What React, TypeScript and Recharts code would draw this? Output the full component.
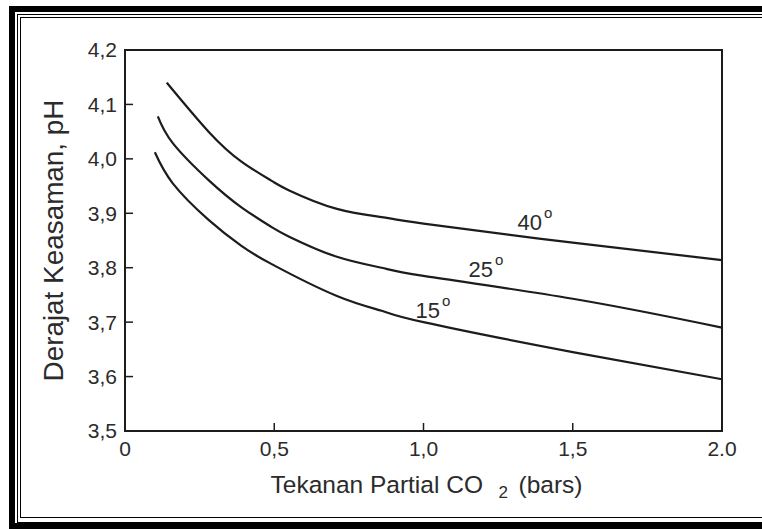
import { LineChart, Line, XAxis, YAxis, ReferenceArea, ReferenceDot } from "recharts";

// axis ticks
const xTicks = [0, 0.5, 1, 1.5, 2];
const xTickLabels = ["0", "0,5", "1,0", "1,5", "2.0"];
const yTicks = [3.5, 3.6, 3.7, 3.8, 3.9, 4.0, 4.1, 4.2];

// CO2 partial pressure (bars) -> pH
const co2At15 = [0.1, 0.16, 0.28, 0.39, 0.49, 0.71, 0.86, 1.0, 1.5, 2.0];
const ph15 = [4.012, 3.955, 3.888, 3.84, 3.807, 3.748, 3.721, 3.7, 3.645, 3.595];

const co2At25 = [0.11, 0.16, 0.28, 0.39, 0.49, 0.55, 0.71, 0.86, 1.0, 1.5, 2.0];
const ph25 = [4.078, 4.029, 3.961, 3.911, 3.875, 3.857, 3.82, 3.8, 3.785, 3.743, 3.69];

const co2At40 = [0.14, 0.28, 0.39, 0.49, 0.55, 0.71, 0.86, 1.0, 1.5, 2.0];
const ph40 = [4.14, 4.05, 3.995, 3.96, 3.942, 3.908, 3.893, 3.881, 3.846, 3.814];

// temperature labels and where they sit (data coords, left/baseline)
const tempLabels = ["15", "25", "40"];
const tempLabelX = [0.973, 1.151, 1.315];
const tempLabelY = [3.707, 3.783, 3.869];

const toPoints = (xs: number[], ys: number[]) => xs.map((x, i) => ({ x, y: ys[i] }));

const FONT = '"Liberation Sans", Arial, sans-serif';
const INK = "#1c1c1c";
const TEXT = "#2b2b2b";

const series = [
  { name: "15", data: toPoints(co2At15, ph15) },
  { name: "25", data: toPoints(co2At25, ph25) },
  { name: "40", data: toPoints(co2At40, ph40) },
];

function tempLabel(text: string) {
  return (props: any) => {
    const vb = props.viewBox || {};
    const x = (vb.x ?? 0) + (vb.width ?? 0) / 2;
    const y = (vb.y ?? 0) + (vb.height ?? 0) / 2;
    return (
      <text x={x} y={y} fontFamily={FONT} fontSize={22} fill={TEXT}>
        {text}
        <tspan dx={2} dy={-12} fontSize={15}>
          o
        </tspan>
      </text>
    );
  };
}

// x title split in three pieces so the subscript sits on its own
function xTitle(props: any) {
  const vb = props.viewBox;
  const cx = vb.x + vb.width / 2;
  const base = vb.y + 62;
  return (
    <g fontFamily={FONT} fill={TEXT}>
      <text x={cx - 153} y={base} fontSize={24.5}>
        Tekanan Partial CO
      </text>
      <text x={cx + 75} y={base + 5} fontSize={17}>
        2
      </text>
      <text x={cx + 95} y={base} fontSize={24.5}>
        (bars)
      </text>
    </g>
  );
}

function yTitle(props: any) {
  const vb = props.viewBox;
  const x = vb.x + 23;
  const y = vb.y + vb.height / 2;
  return (
    <text
      x={x}
      y={y}
      transform={`rotate(-90, ${x}, ${y})`}
      textAnchor="middle"
      fontFamily={FONT}
      fontSize={27}
      fill={TEXT}
      textLength={282}
      lengthAdjust="spacingAndGlyphs"
    >
      Derajat Keasaman, pH
    </text>
  );
}

export default function App() {
  return (
    <div
      style={{
        position: "absolute",
        left: 0,
        top: 0,
        width: 762,
        height: 529,
        overflow: "hidden",
        background: "#fff",
      }}
    >
      {/* double frame around the figure */}
      <div style={{ position: "absolute", left: 9, top: 6, width: 800, height: 511, border: "6px solid #000" }} />
      <div style={{ position: "absolute", left: 17, top: 14, width: 800, height: 507, border: "1px solid #000" }} />
      <div style={{ position: "absolute", left: 20, top: 17, width: 800, height: 499, border: "1px solid #000" }} />

      <div style={{ position: "absolute", left: 0, top: 0 }}>
        <LineChart width={762} height={529} margin={{ top: 50, right: 40, bottom: 68, left: 40 }}>
          <XAxis
            type="number"
            dataKey="x"
            domain={[0, 2]}
            ticks={xTicks}
            interval={0}
            height={30}
            tickSize={-8}
            tickMargin={18}
            fontSize={21}
            tickFormatter={(v: number) => xTickLabels[xTicks.indexOf(v)] ?? String(v)}
            tick={{ fill: TEXT, fontSize: 21, fontFamily: FONT }}
            axisLine={{ stroke: INK, strokeWidth: 2 }}
            tickLine={{ stroke: INK, strokeWidth: 1.5 }}
            label={{ content: xTitle }}
          />
          <YAxis
            type="number"
            domain={[3.5, 4.2]}
            ticks={yTicks}
            interval={0}
            width={85}
            tickSize={-8}
            tickMargin={16}
            fontSize={21}
            tickFormatter={(v: number) => v.toFixed(1).replace(".", ",")}
            tick={{ fill: TEXT, fontSize: 21, fontFamily: FONT }}
            axisLine={{ stroke: INK, strokeWidth: 2 }}
            tickLine={{ stroke: INK, strokeWidth: 1.5 }}
            label={{ content: yTitle }}
          />
          <ReferenceArea
            x1={0}
            x2={2}
            y1={3.5}
            y2={4.2}
            fill="none"
            stroke={INK}
            strokeWidth={2}
            fillOpacity={0}
          />
          {series.map((s) => (
            <Line
              key={s.name}
              data={s.data}
              dataKey="y"
              name={s.name}
              type="natural"
              stroke={INK}
              strokeWidth={2.2}
              dot={false}
              activeDot={false}
              isAnimationActive={false}
            />
          ))}
          {tempLabels.map((t, i) => (
            <ReferenceDot
              key={t}
              x={tempLabelX[i]}
              y={tempLabelY[i]}
              r={0}
              fill="none"
              stroke="none"
              label={tempLabel(t)}
            />
          ))}
        </LineChart>
      </div>
    </div>
  );
}
